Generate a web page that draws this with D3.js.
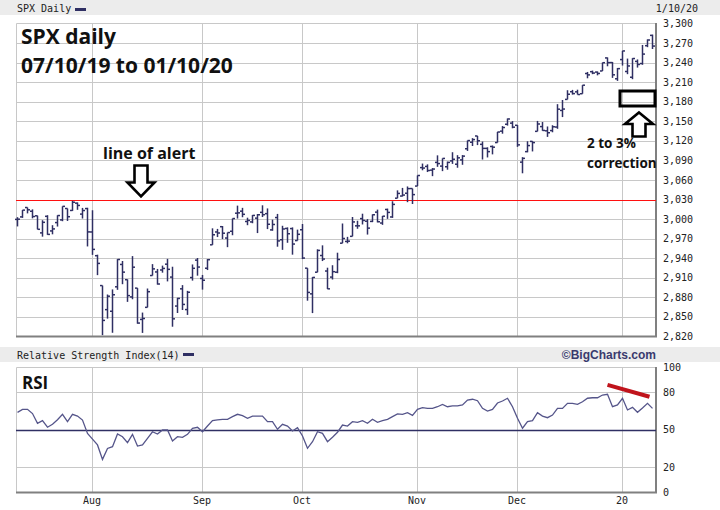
<!DOCTYPE html>
<html>
<head>
<meta charset="utf-8">
<script src="https://cdn.jsdelivr.net/npm/d3@7"></script>
<style>
  body { margin: 0; background: #fff; }
  svg { display: block; }
</style>
</head>
<body>
<script>
// trading days, 07/11/19 .. 01/10/20
const dates = [
  "2019-07-11","2019-07-12","2019-07-15","2019-07-16","2019-07-17","2019-07-18","2019-07-19","2019-07-22","2019-07-23","2019-07-24","2019-07-25","2019-07-26","2019-07-29","2019-07-30","2019-07-31",
  "2019-08-01","2019-08-02","2019-08-05","2019-08-06","2019-08-07","2019-08-08","2019-08-09","2019-08-12","2019-08-13","2019-08-14","2019-08-15","2019-08-16","2019-08-19","2019-08-20","2019-08-21","2019-08-22","2019-08-23","2019-08-26","2019-08-27","2019-08-28","2019-08-29","2019-08-30",
  "2019-09-03","2019-09-04","2019-09-05","2019-09-06","2019-09-09","2019-09-10","2019-09-11","2019-09-12","2019-09-13","2019-09-16","2019-09-17","2019-09-18","2019-09-19","2019-09-20","2019-09-23","2019-09-24","2019-09-25","2019-09-26","2019-09-27","2019-09-30",
  "2019-10-01","2019-10-02","2019-10-03","2019-10-04","2019-10-07","2019-10-08","2019-10-09","2019-10-10","2019-10-11","2019-10-14","2019-10-15","2019-10-16","2019-10-17","2019-10-18","2019-10-21","2019-10-22","2019-10-23","2019-10-24","2019-10-25","2019-10-28","2019-10-29","2019-10-30","2019-10-31",
  "2019-11-01","2019-11-04","2019-11-05","2019-11-06","2019-11-07","2019-11-08","2019-11-11","2019-11-12","2019-11-13","2019-11-14","2019-11-15","2019-11-18","2019-11-19","2019-11-20","2019-11-21","2019-11-22","2019-11-25","2019-11-26","2019-11-27","2019-11-29",
  "2019-12-02","2019-12-03","2019-12-04","2019-12-05","2019-12-06","2019-12-09","2019-12-10","2019-12-11","2019-12-12","2019-12-13","2019-12-16","2019-12-17","2019-12-18","2019-12-19","2019-12-20","2019-12-23","2019-12-24","2019-12-26","2019-12-27","2019-12-30","2019-12-31",
  "2020-01-02","2020-01-03","2020-01-06","2020-01-07","2020-01-08","2020-01-09","2020-01-10"
];

const opens = [
  2999.6,3003.4,3017.8,3012.1,3005.1,2978.9,3004.3,2981.9,2994.7,2998.8,3016.3,3013.3,3024.5,3007.7,3016.2,
  2980.3,2943.9,2898.1,2861.2,2858.7,2896.2,2930.5,2907.1,2880.7,2894.2,2846.2,2864.7,2913.5,2919.0,2922.0,2930.9,2911.1,2866.7,2893.1,2861.3,2910.4,2937.1,
  2909.0,2924.7,2960.6,2980.3,2988.4,2971.0,2981.4,3009.1,3012.2,2996.4,2995.7,3001.5,3010.4,3008.4,2983.5,3002.4,2968.4,2985.7,2985.5,2967.1,
  2983.7,2924.8,2885.4,2918.6,2944.2,2920.4,2911.1,2918.6,2963.1,2965.8,2973.6,2989.7,3000.8,2996.8,2996.5,3010.7,2994.0,3014.8,3003.3,3032.1,3035.4,3039.7,3046.9,
  3050.7,3079.0,3080.8,3075.1,3087.0,3081.3,3080.3,3089.3,3084.2,3090.8,3107.9,3117.9,3127.5,3114.7,3108.5,3111.4,3117.4,3134.9,3145.5,3147.2,
  3143.9,3087.4,3103.5,3119.2,3134.6,3141.9,3135.4,3135.8,3141.2,3166.7,3183.6,3195.4,3195.2,3192.3,3223.3,3226.1,3225.5,3227.2,3247.2,3240.1,3215.2,
  3244.7,3226.4,3217.6,3241.9,3238.6,3266.0,3281.8
];
const highs = [
  3003.0,3013.9,3017.8,3015.0,3005.3,2998.3,3006.0,2990.7,3005.9,3019.6,3016.3,3028.0,3025.6,3017.2,3017.4,
  3013.6,2945.5,2898.1,2884.4,2892.2,2938.7,2935.8,2907.6,2943.3,2894.2,2856.7,2893.6,2931.0,2923.6,2928.7,2939.1,2927.0,2879.3,2898.8,2890.0,2930.5,2940.4,
  2914.4,2938.8,2985.9,2985.0,2989.4,2979.4,3000.9,3020.7,3017.3,3002.2,3006.2,3007.8,3021.2,3016.4,2999.2,3008.0,2989.8,2987.3,2987.3,2983.9,
  2992.5,2924.8,2911.1,2953.7,2959.8,2925.5,2929.3,2948.5,2993.3,2972.8,3003.3,2997.5,3008.3,3000.0,3007.3,3014.6,3004.8,3016.1,3027.4,3044.1,3047.9,3050.1,3046.9,
  3067.0,3085.2,3084.0,3078.3,3097.8,3093.1,3088.3,3102.6,3098.1,3098.2,3120.5,3124.2,3127.6,3119.0,3110.1,3112.9,3133.8,3142.7,3154.3,3150.3,
  3144.3,3095.0,3119.4,3119.5,3150.6,3148.9,3142.1,3144.0,3176.3,3182.7,3197.7,3198.2,3198.5,3205.5,3225.7,3227.8,3226.4,3240.1,3247.9,3240.9,3231.7,
  3258.1,3246.2,3246.8,3244.9,3267.1,3275.6,3283.0
];
const lows = [
  2988.8,3001.9,3008.8,3001.2,2984.3,2973.1,2975.9,2976.7,2988.6,2996.8,2997.2,3012.6,3014.3,3000.9,2958.1,
  2945.2,2914.1,2822.1,2847.4,2825.7,2891.6,2900.2,2873.1,2877.1,2839.6,2825.5,2864.7,2913.5,2899.6,2917.9,2904.5,2835.0,2856.0,2860.6,2853.1,2905.7,2913.3,
  2891.9,2921.9,2960.6,2972.5,2969.4,2957.0,2975.3,3000.9,3002.9,2990.7,2993.7,2978.6,3003.2,2984.7,2982.2,2957.7,2952.9,2963.7,2945.5,2967.1,
  2938.7,2874.9,2855.9,2918.6,2935.7,2892.7,2907.4,2917.1,2963.1,2962.9,2973.6,2985.2,2991.8,2976.3,2995.4,2995.0,2991.2,3000.4,3001.9,3032.1,3034.8,3026.0,3023.2,
  3050.7,3074.9,3072.2,3065.9,3080.2,3073.6,3075.8,3084.7,3078.8,3083.3,3104.6,3112.1,3113.5,3091.4,3094.6,3099.3,3117.4,3131.0,3143.4,3139.3,
  3110.8,3070.3,3102.5,3103.8,3134.6,3135.5,3126.1,3133.2,3138.5,3156.5,3183.6,3191.0,3191.1,3192.3,3216.0,3222.3,3220.5,3227.2,3234.4,3216.6,3212.0,
  3235.5,3222.3,3214.6,3232.4,3236.7,3263.7,3260.9
];
const closes = [
  2999.9,3013.8,3014.3,3004.0,2984.4,2995.1,2976.6,2985.0,3005.5,3019.6,3003.7,3025.9,3021.0,3013.2,2980.4,
  2953.6,2932.1,2844.7,2881.8,2884.0,2938.1,2918.7,2882.7,2926.3,2840.6,2847.6,2888.7,2923.7,2900.5,2924.4,2923.0,2847.1,2878.4,2869.2,2887.9,2924.6,2926.5,
  2906.3,2937.8,2976.0,2978.7,2978.4,2979.4,3000.9,3009.6,3007.4,2998.0,3005.7,3006.7,3006.8,2992.1,2991.8,2966.6,2984.9,2977.6,2961.8,2976.7,
  2940.3,2887.6,2910.6,2952.0,2938.8,2893.1,2919.4,2938.1,2970.3,2966.2,2995.7,2989.7,2998.0,2986.2,3006.7,2996.0,3004.5,3010.3,3022.6,3039.4,3036.9,3046.8,3037.6,
  3066.9,3078.3,3074.6,3076.8,3085.2,3093.1,3087.0,3091.8,3094.0,3096.6,3120.5,3122.0,3120.2,3108.5,3103.5,3110.3,3133.6,3140.5,3153.6,3141.0,
  3113.9,3093.2,3112.8,3117.4,3145.9,3136.0,3132.5,3141.6,3168.6,3168.8,3191.5,3192.5,3191.1,3205.4,3221.2,3224.0,3223.4,3239.9,3240.0,3221.3,3230.8,
  3257.9,3234.9,3246.3,3237.2,3253.1,3274.7,3265.4
];

// RSI(14)
const rsi = [
  64,66.4,66.4,63,55.2,57.3,52,54.4,58,62.4,56.5,62.4,61,57.8,47,
  42.5,37.8,26.2,35,36.4,46.6,44.4,39.6,46.3,36.9,37.8,43,48.4,46.6,49.8,49.8,41,44.4,43.9,46.3,51.2,52,
  48.4,53,57.3,58,58.4,58.4,60.5,62.4,61.3,59.2,61,61,61,56.5,56.5,50.4,54.4,53,49,51.6,
  45,35.1,40.4,48.4,47.1,40.4,44,48,53.8,53,56.5,56,57.3,55.2,58.4,56,57.3,58.4,60.5,62.7,62.4,63.7,61.6,
  66.4,67.7,67.2,67.2,68.5,70.4,68.5,69.1,69.1,69.9,73.9,74.5,73.3,67.2,65,66.4,71.5,73.1,75.3,68.5,
  59.2,51.2,56.5,57.3,63.7,61,59.7,61.8,67.2,67.2,71.2,71.2,70.4,72.5,75.3,75.7,75.7,77.9,78.5,68.5,69.9,
  75.3,65.9,68,64,67.5,71.2,67.2
];

const priceTicks = [2820,2850,2880,2910,2940,2970,3000,3030,3060,3090,3120,3150,3180,3210,3240,3270,3300];
const rsiTicks = [0,20,50,80,100];
const monthStarts = ["2019-08-01","2019-09-03","2019-10-01","2019-11-01","2019-12-02","2020-01-02"];
const monthNames = ["Aug","Sep","Oct","Nov","Dec","20"];
const alertLevel = 3030;

const width = 720, height = 510;
const left = 16, right = 656;
const mono = "'DejaVu Sans Mono', monospace";
const navy = "#2f2f63";
const gridCol = "#c8c8c8";

const svg = d3.select("body").append("svg")
    .attr("width", width)
    .attr("height", height)
    .style("font-family", mono);

const x = d3.scalePoint().domain(dates).range([17.5, 17.5 + 5 * (dates.length - 1)]);
const y = d3.scaleLinear().domain([2820, 3300]).range([336.5, 23.5]);
const yR = d3.scaleLinear().domain([0, 100]).range([492, 367.5]);
const crisp = v => Math.round(v) + 0.5;

// header bands
svg.append("rect").attr("x", 0).attr("y", 0).attr("width", width).attr("height", 15).attr("fill", "#ececec");
svg.append("rect").attr("x", 0).attr("y", 347).attr("width", width).attr("height", 15).attr("fill", "#ececec");

svg.append("text").attr("x", 17).attr("y", 11.5).attr("font-size", 10).attr("fill", "#222").text("SPX Daily");
svg.append("rect").attr("x", 75).attr("y", 8).attr("width", 11).attr("height", 3).attr("fill", navy);
svg.append("text").attr("x", 698).attr("y", 11.5).attr("font-size", 10).attr("fill", "#222")
    .attr("text-anchor", "end").text("1/10/20");

svg.append("text").attr("x", 17).attr("y", 358.5).attr("font-size", 10).attr("fill", "#222").text("Relative Strength Index(14)");
svg.append("rect").attr("x", 183).attr("y", 353).attr("width", 11).attr("height", 3).attr("fill", navy);
svg.append("text").attr("x", 656).attr("y", 358.5).attr("text-anchor", "end")
    .attr("font-family", "'Liberation Sans', Arial, sans-serif").attr("font-weight", "bold")
    .attr("font-size", 12).attr("fill", "#3a3a6e").text("\u00a9BigCharts.com");

// ---- price panel ----
const main = svg.append("g");
main.selectAll(".hgrid").data(priceTicks.slice(1, -1)).enter().append("line")
    .attr("x1", left).attr("x2", right)
    .attr("y1", d => crisp(y(d))).attr("y2", d => crisp(y(d)))
    .attr("stroke", gridCol);
main.selectAll(".vgrid").data(monthStarts).enter().append("line")
    .attr("x1", d => crisp(x(d) - 1)).attr("x2", d => crisp(x(d) - 1))
    .attr("y1", 23.5).attr("y2", 336.5)
    .attr("stroke", gridCol);
// frame
main.append("path").attr("d", `M${left + 0.5},336 V23.5 H${right}`).attr("fill", "none").attr("stroke", gridCol);
main.append("path").attr("d", `M${left},336.5 H${right} V23`).attr("fill", "none").attr("stroke", "#808080").attr("stroke-width", 2);

// alert line
main.append("line").attr("x1", left).attr("x2", right)
    .attr("y1", crisp(y(alertLevel))).attr("y2", crisp(y(alertLevel)))
    .attr("stroke", "#ff1010").attr("stroke-width", 1.2);

// OHLC bars
const bars = main.append("g").attr("stroke", navy).attr("stroke-width", 1.5);
bars.selectAll(".hl").data(dates).enter().append("line")
    .attr("x1", d => x(d)).attr("x2", d => x(d))
    .attr("y1", (d, i) => y(highs[i])).attr("y2", (d, i) => y(lows[i]));
bars.selectAll(".op").data(dates).enter().append("line")
    .attr("x1", d => x(d) - 2.5).attr("x2", d => x(d))
    .attr("y1", (d, i) => y(opens[i])).attr("y2", (d, i) => y(opens[i]));
bars.selectAll(".cl").data(dates).enter().append("line")
    .attr("x1", d => x(d)).attr("x2", d => x(d) + 2.5)
    .attr("y1", (d, i) => y(closes[i])).attr("y2", (d, i) => y(closes[i]));

// right axis labels
svg.append("g").selectAll("text").data(priceTicks).enter().append("text")
    .attr("x", 663).attr("y", d => y(d) + 3.5)
    .attr("font-size", 10).attr("fill", "#222")
    .text(d3.format(","));

// annotations
const note = svg.append("g").attr("font-family", "'Open Sans', sans-serif").attr("font-weight", "bold").attr("fill", "#111");
note.append("text").attr("x", 21).attr("y", 44).attr("font-size", 21).text("SPX daily");
note.append("text").attr("x", 21).attr("y", 73).attr("font-size", 21).text("07/10/19 to 01/10/20");
note.append("text").attr("x", 103).attr("y", 159).attr("font-size", 16).text("line of alert");
note.append("text").attr("x", 587).attr("y", 148).attr("font-size", 13.5).text("2 to 3%");
note.append("text").attr("x", 587).attr("y", 168).attr("font-size", 13.5).text("correction");

const arrowStyle = g => g.attr("fill", "#fff").attr("stroke", "#000").attr("stroke-width", 2.6).attr("stroke-linejoin", "miter");
// down arrow (tip at bottom)
svg.append("path").call(arrowStyle)
    .attr("d", "M134.5,165.5 H147.5 V182.5 H154.5 L141,196.5 L127.5,182.5 H134.5 Z");
// up arrow (tip at top)
svg.append("path").call(arrowStyle)
    .attr("d", "M639,112.5 L653,124 H645.5 V136.5 H632.5 V124 H625 Z");
svg.append("rect").attr("x", 620).attr("y", 91).attr("width", 35).attr("height", 15)
    .attr("fill", "none").attr("stroke", "#000").attr("stroke-width", 3);

// ---- RSI panel ----
const low = svg.append("g");
low.selectAll(".hgrid").data([20, 80]).enter().append("line")
    .attr("x1", left).attr("x2", right)
    .attr("y1", d => crisp(yR(d))).attr("y2", d => crisp(yR(d)))
    .attr("stroke", gridCol);
low.selectAll(".vgrid").data(monthStarts).enter().append("line")
    .attr("x1", d => crisp(x(d) - 1)).attr("x2", d => crisp(x(d) - 1))
    .attr("y1", 367.5).attr("y2", 492)
    .attr("stroke", gridCol);
low.append("path").attr("d", `M${left + 0.5},492 V367.5 H${right}`).attr("fill", "none").attr("stroke", gridCol);
low.append("path").attr("d", `M${left},492.5 H${right} V367`).attr("fill", "none").attr("stroke", "#808080").attr("stroke-width", 2);
low.append("line").attr("x1", left).attr("x2", right)
    .attr("y1", crisp(yR(50))).attr("y2", crisp(yR(50)))
    .attr("stroke", navy).attr("stroke-width", 1.3);

low.append("path").datum(rsi)
    .attr("fill", "none").attr("stroke", "#55558a").attr("stroke-width", 1.3)
    .attr("d", d3.line().x((d, i) => x(dates[i])).y(d => yR(d)));

// red divergence line
low.append("line")
    .attr("x1", x("2019-12-27")).attr("y1", yR(86))
    .attr("x2", x("2020-01-09") + 2).attr("y2", yR(76.5))
    .attr("stroke", "#c0141c").attr("stroke-width", 4);

low.append("text").attr("x", 22).attr("y", 389)
    .attr("font-family", "'Open Sans', sans-serif").attr("font-weight", "bold")
    .attr("font-size", 17).attr("fill", "#111").text("RSI");

svg.append("g").selectAll("text").data(rsiTicks).enter().append("text")
    .attr("x", 663).attr("y", d => yR(d) + 3.5)
    .attr("font-size", 10).attr("fill", "#222")
    .text(d => d);

// month labels
svg.append("g").selectAll("text").data(monthStarts).enter().append("text")
    .attr("x", d => x(d) - 0.5).attr("y", 504)
    .attr("text-anchor", "middle").attr("font-size", 10).attr("fill", "#222")
    .text((d, i) => monthNames[i]);
</script>
</body>
</html>
